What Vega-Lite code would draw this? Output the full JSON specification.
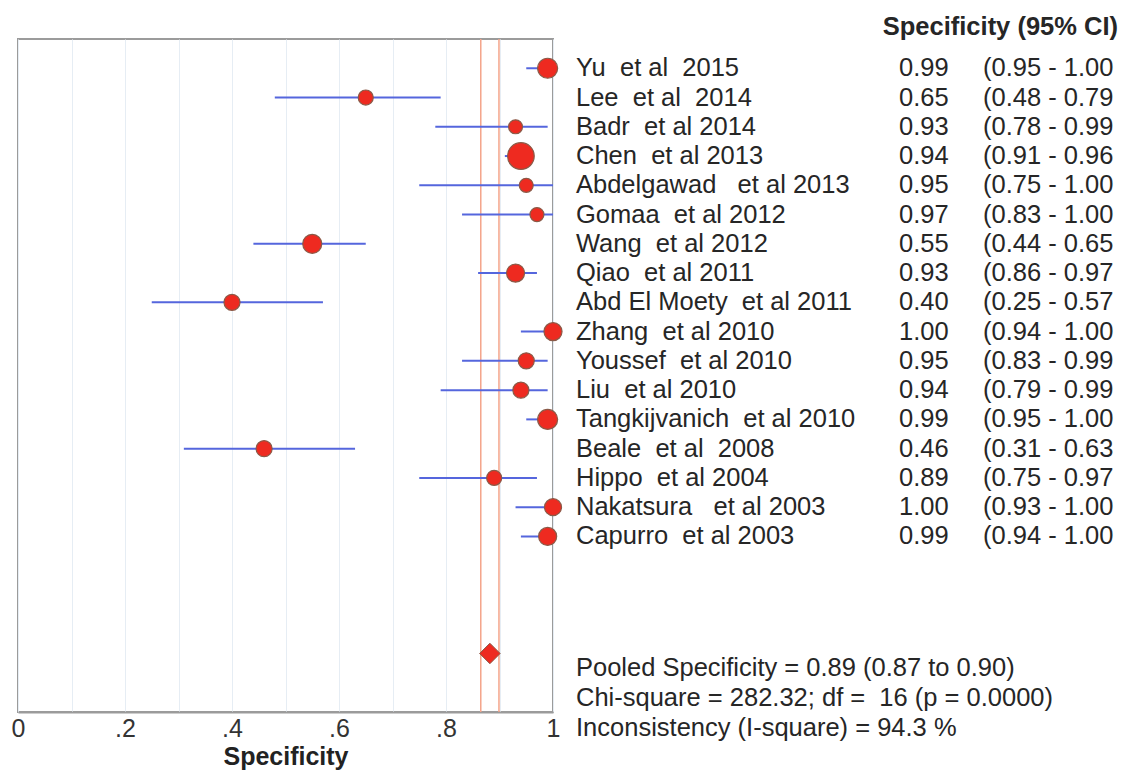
{
  "$schema": "https://vega.github.io/schema/vega-lite/v6.json",
  "autosize": "none",
  "padding": {"left": 18, "top": 39, "right": 573, "bottom": 59},
  "background": "white",
  "width": 535,
  "height": 673,
  "view": {"stroke": "#9b9b9b", "strokeWidth": 2},
  "config": {"font": "Liberation Sans", "text": {"font": "Liberation Sans"}},
  "datasets": {
    "studies": [
      {"id": "Yu2015", "label": "Yu\u00a0 et al\u00a0 2015", "est": 0.99, "lo": 0.95, "hi": 1.00, "weight": 7.6},
      {"id": "Lee2014", "label": "Lee\u00a0 et al\u00a0 2014", "est": 0.65, "lo": 0.48, "hi": 0.79, "weight": 4.3},
      {"id": "Badr2014", "label": "Badr\u00a0 et al 2014", "est": 0.93, "lo": 0.78, "hi": 0.99, "weight": 3.7},
      {"id": "Chen2013", "label": "Chen\u00a0 et al 2013", "est": 0.94, "lo": 0.91, "hi": 0.96, "weight": 13.5},
      {"id": "Abdelgawad2013", "label": "Abdelgawad\u00a0\u00a0 et al 2013", "est": 0.95, "lo": 0.75, "hi": 1.00, "weight": 3.7},
      {"id": "Gomaa2012", "label": "Gomaa\u00a0 et al 2012", "est": 0.97, "lo": 0.83, "hi": 1.00, "weight": 3.7},
      {"id": "Wang2012", "label": "Wang\u00a0 et al 2012", "est": 0.55, "lo": 0.44, "hi": 0.65, "weight": 6.9},
      {"id": "Qiao2011", "label": "Qiao\u00a0 et al 2011", "est": 0.93, "lo": 0.86, "hi": 0.97, "weight": 6.2},
      {"id": "AbdElMoety2011", "label": "Abd El Moety\u00a0 et al 2011", "est": 0.40, "lo": 0.25, "hi": 0.57, "weight": 4.9},
      {"id": "Zhang2010", "label": "Zhang\u00a0 et al 2010", "est": 1.00, "lo": 0.94, "hi": 1.00, "weight": 6.2},
      {"id": "Youssef2010", "label": "Youssef\u00a0 et al 2010", "est": 0.95, "lo": 0.83, "hi": 0.99, "weight": 4.9},
      {"id": "Liu2010", "label": "Liu\u00a0 et al 2010", "est": 0.94, "lo": 0.79, "hi": 0.99, "weight": 4.9},
      {"id": "Tangkijvanich2010", "label": "Tangkijvanich\u00a0 et al 2010", "est": 0.99, "lo": 0.95, "hi": 1.00, "weight": 7.6},
      {"id": "Beale2008", "label": "Beale\u00a0 et al\u00a0 2008", "est": 0.46, "lo": 0.31, "hi": 0.63, "weight": 4.9},
      {"id": "Hippo2004", "label": "Hippo\u00a0 et al 2004", "est": 0.89, "lo": 0.75, "hi": 0.97, "weight": 4.3},
      {"id": "Nakatsura2003", "label": "Nakatsura\u00a0\u00a0 et al 2003", "est": 1.00, "lo": 0.93, "hi": 1.00, "weight": 5.5},
      {"id": "Capurro2003", "label": "Capurro\u00a0 et al 2003", "est": 0.99, "lo": 0.94, "hi": 1.00, "weight": 6.2}
    ],
    "pooled": [
      {"id": "Pooled", "est": 0.882, "lo": 0.865, "hi": 0.899,
       "summary": "Pooled Specificity = 0.89 (0.87 to 0.90)\nChi-square = 282.32; df =\u00a0 16 (p = 0.0000)\nInconsistency (I-square) = 94.3 %"}
    ]
  },
  "encoding": {
    "y": {
      "field": "id", "type": "nominal", "axis": null,
      "scale": {"type": "point", "padding": 0, "domain": ["top", "Yu2015", "Lee2014", "Badr2014", "Chen2013", "Abdelgawad2013", "Gomaa2012", "Wang2012", "Qiao2011", "AbdElMoety2011", "Zhang2010", "Youssef2010", "Liu2010", "Tangkijvanich2010", "Beale2008", "Hippo2004", "Nakatsura2003", "Capurro2003", "g1", "g2", "g3", "Pooled", "b1", "b2"]}
    }
  },
  "layer": [
    {
      "layer": [
        {
          "data": {"name": "pooled"},
          "mark": {"type": "rule", "color": "#f4a48a", "strokeWidth": 1.5},
          "encoding": {
            "y": null,
            "x": {
              "field": "lo", "type": "quantitative", "title": "Specificity",
              "scale": {"domain": [0, 1], "nice": false, "zero": true},
              "axis": {
                "values": [0, 0.1, 0.2, 0.3, 0.4, 0.5, 0.6, 0.7, 0.8, 0.9, 1],
                "labelExpr": "datum.value == 0 ? '0' : datum.value == 1 ? '1' : (round(datum.value * 10) % 2 == 0 ? replace(format(datum.value, '.1f'), '0.', '.') : '')",
                "labelOverlap": false,
                "labelFlush": false,
                "grid": true,
                "gridColor": "#e6edf4",
                "gridWidth": 1,
                "ticks": false,
                "domainColor": "#9b9b9b",
                "domainWidth": 2,
                "labelFontSize": 25,
                "labelColor": "#333333",
                "labelPadding": 4,
                "titleFontSize": 25,
                "titleFontWeight": "bold",
                "titleColor": "#222222",
                "titlePadding": 3
              }
            }
          }
        },
        {
          "data": {"name": "pooled"},
          "mark": {"type": "rule", "color": "#f4a48a", "strokeWidth": 1.5},
          "encoding": {
            "y": null,
            "x": {"field": "hi", "type": "quantitative", "title": "Specificity"}
          }
        },
        {
          "data": {"name": "studies"},
          "mark": {"type": "rule", "color": "#5566dd", "strokeWidth": 2},
          "encoding": {
            "x": {"field": "lo", "type": "quantitative", "title": "Specificity"},
            "x2": {"field": "hi"}
          }
        },
        {
          "data": {"name": "studies"},
          "mark": {"type": "circle", "fill": "#ee2a20", "stroke": "#8a5a48", "strokeWidth": 1.2, "opacity": 1},
          "encoding": {
            "x": {"field": "est", "type": "quantitative", "title": "Specificity"},
            "size": {"field": "weight", "type": "quantitative", "scale": {"domain": [0, 15], "range": [0, 790]}, "legend": null}
          }
        },
        {
          "data": {"name": "pooled"},
          "mark": {"type": "point", "shape": "diamond", "filled": true, "fill": "#ee2a20", "stroke": "#8a5a48", "strokeWidth": 1, "size": 420, "opacity": 1},
          "encoding": {
            "x": {"field": "est", "type": "quantitative", "title": "Specificity"}
          }
        }
      ]
    },
    {
      "layer": [
        {
          "data": {"name": "studies"},
          "mark": {"type": "text", "align": "left", "baseline": "middle", "fontSize": 25.5, "color": "#262626"},
          "encoding": {
            "x": {"datum": 23, "type": "quantitative", "scale": {"domain": [0, 573], "range": [535, 1108], "nice": false, "zero": false}, "axis": null},
            "text": {"field": "label", "type": "nominal"}
          }
        },
        {
          "data": {"name": "studies"},
          "mark": {"type": "text", "align": "left", "baseline": "middle", "fontSize": 25.5, "color": "#262626"},
          "encoding": {
            "x": {"datum": 346, "type": "quantitative"},
            "text": {"field": "est", "type": "quantitative", "format": ".2f"}
          }
        },
        {
          "data": {"name": "studies"},
          "transform": [{"calculate": "'(' + format(datum.lo, '.2f') + ' - ' + format(datum.hi, '.2f')", "as": "ci"}],
          "mark": {"type": "text", "align": "left", "baseline": "middle", "fontSize": 25.5, "color": "#262626"},
          "encoding": {
            "x": {"datum": 430, "type": "quantitative"},
            "text": {"field": "ci", "type": "nominal"}
          }
        },
        {
          "data": {"name": "pooled"},
          "mark": {"type": "text", "align": "right", "baseline": "middle", "fontSize": 25.5, "fontWeight": "bold", "color": "#262626", "dy": -12, "text": "Specificity (95% CI)"},
          "encoding": {
            "x": {"datum": 565, "type": "quantitative"},
            "y": {"datum": "top", "type": "nominal"}
          }
        },
        {
          "data": {"name": "pooled"},
          "mark": {"type": "text", "align": "left", "baseline": "top", "fontSize": 25.5, "color": "#262626", "lineBreak": "\n", "lineHeight": 30, "dy": 3},
          "encoding": {
            "x": {"datum": 23, "type": "quantitative"},
            "text": {"field": "summary", "type": "nominal"}
          }
        }
      ]
    }
  ],
  "resolve": {"scale": {"x": "independent"}, "axis": {"x": "independent"}}
}
